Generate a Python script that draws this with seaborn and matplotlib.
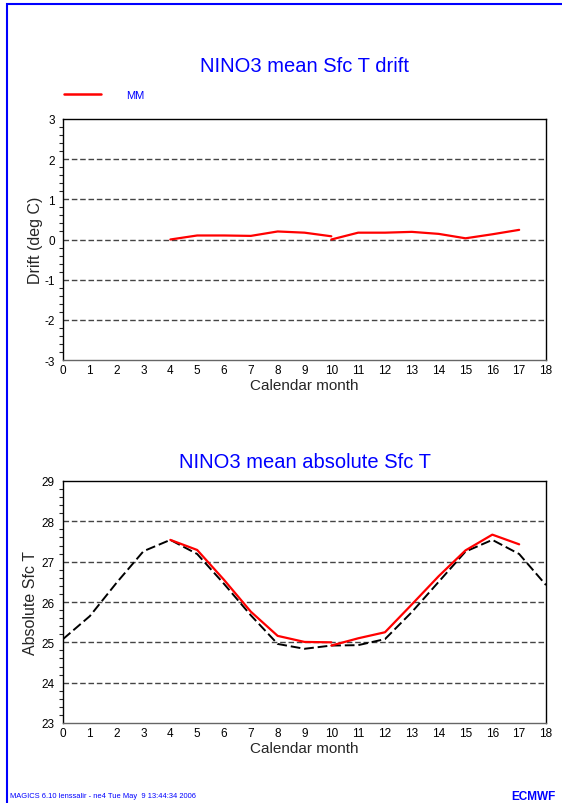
import matplotlib
matplotlib.use("Agg")
import pandas as pd
import seaborn as sns
import matplotlib.pyplot as plt
from matplotlib.lines import Line2D
from matplotlib.patches import Rectangle
from matplotlib.ticker import MultipleLocator

# calendar months on the x axis
months = list(range(19))
# observed climatology (black dashed)
obs_sfc_t = [25.08, 25.65, 26.48, 27.26, 27.54, 27.19, 26.45, 25.67, 24.96, 24.84,
             24.92, 24.93, 25.08, 25.75, 26.50, 27.25, 27.54, 27.19, 26.42]

# two forecast runs (red, "MM")
run1_months = [4, 5, 6, 7, 8, 9, 10]
run1_drift = [0.00, 0.10, 0.10, 0.09, 0.20, 0.17, 0.08]
run1_sfc_t = [27.54, 27.29, 26.55, 25.76, 25.16, 25.01, 25.00]

run2_months = [10, 11, 12, 13, 14, 15, 16, 17]
run2_drift = [0.00, 0.17, 0.17, 0.19, 0.14, 0.03, 0.13, 0.24]
run2_sfc_t = [24.92, 25.10, 25.25, 25.94, 26.64, 27.28, 27.67, 27.43]

x_ticks = list(range(19))
drift_ticks = [-3, -2, -1, 0, 1, 2, 3]
sfc_ticks = [23, 24, 25, 26, 27, 28, 29]

mm = pd.DataFrame({
    "month": run1_months + run2_months,
    "drift": run1_drift + run2_drift,
    "sfc_t": run1_sfc_t + run2_sfc_t,
    "run": ["r1"] * len(run1_months) + ["r2"] * len(run2_months),
})

sns.set_theme(style="white")
plt.rcParams["font.family"] = ["Liberation Sans", "DejaVu Sans"]
plt.rcParams["axes.unicode_minus"] = False

W, H = 562, 804
fig = plt.figure(figsize=(W / 100, H / 100), dpi=100)
fig.patch.set_facecolor("white")

def box(l, t, r, b):
    return [l / W, 1 - b / H, (r - l) / W, (b - t) / H]

ax1 = fig.add_axes(box(63, 120, 546, 361))
ax2 = fig.add_axes(box(63, 482, 546, 724))

blue = "#0000ff"
grid_col = "#444444"

def style(ax, ylim, yticks, ylabel, label_x):
    ax.set_xlim(0, 18)
    ax.set_ylim(*ylim)
    ax.set_xticks(x_ticks)
    ax.set_yticks(yticks)
    ax.yaxis.set_minor_locator(MultipleLocator(0.2))
    ax.tick_params(axis="x", direction="in", length=4, width=0.8, labelsize=8.5,
                   pad=3, colors="black")
    ax.tick_params(axis="y", which="major", direction="out", length=5, width=0.8,
                   labelsize=8.5, pad=1, colors="black")
    ax.tick_params(axis="y", which="minor", direction="out", length=3, width=0.8,
                   left=True)
    for y in yticks[1:-1]:
        ax.axhline(y, color=grid_col, lw=1.0, ls=(0, (4, 2)), zorder=1)
    for s in ax.spines.values():
        s.set_visible(True)
        s.set_color("black")
        s.set_linewidth(1.0)
    ax.spines["bottom"].set_color("#666666")
    ax.set_xlabel("Calendar month", fontsize=11, labelpad=1)
    ax.set_ylabel(ylabel, fontsize=11.5)
    ax.yaxis.set_label_coords(label_x, 0.5)

# top panel: drift
sns.lineplot(data=mm, x="month", y="drift", units="run", estimator=None,
             color="red", lw=1.6, ax=ax1, legend=False, zorder=3)
style(ax1, (-3, 3), drift_ticks, "Drift (deg C)", -0.042)

# bottom panel: absolute SST
sns.lineplot(x=months, y=obs_sfc_t, color="black", lw=1.4, ax=ax2,
             linestyle=(0, (5, 2)), zorder=2)
sns.lineplot(data=mm, x="month", y="sfc_t", units="run", estimator=None,
             color="red", lw=1.6, ax=ax2, legend=False, zorder=3)
style(ax2, (23, 29), sfc_ticks, "Absolute Sfc T", -0.052)

# titles
fig.text(305 / W, 1 - 67 / H, "NINO3 mean Sfc T drift", color=blue,
         fontsize=14.5, ha="center", va="center")
fig.text(305 / W, 1 - 463 / H, "NINO3 mean absolute Sfc T", color=blue,
         fontsize=14.5, ha="center", va="center")

# legend
leg = ax1.legend(handles=[Line2D([], [], color="red", lw=1.8)], labels=["MM"],
                 loc="center left", bbox_to_anchor=(64 / W, 1 - 96 / H),
                 bbox_transform=fig.transFigure, frameon=False, fontsize=8,
                 handlelength=3.3, handletextpad=2.3, borderpad=0,
                 borderaxespad=0)
for t in leg.get_texts():
    t.set_color(blue)

# page frame and footer
fig.add_artist(Rectangle((7 / W, -0.1), 1.2, 1 - 5 / H + 0.1,
                         transform=fig.transFigure, fill=False,
                         edgecolor=blue, lw=1.5))
fig.text(10 / W, 1 - 797 / H,
         "MAGICS 6.10 lenssalir - ne4 Tue May  9 13:44:34 2006",
         color=blue, fontsize=5.4, ha="left", va="center")
fig.text(556 / W, 1 - 797 / H, "ECMWF", color=blue, fontsize=8.5,
         fontweight="bold", ha="right", va="center")

fig.savefig("out.png", dpi=100)
